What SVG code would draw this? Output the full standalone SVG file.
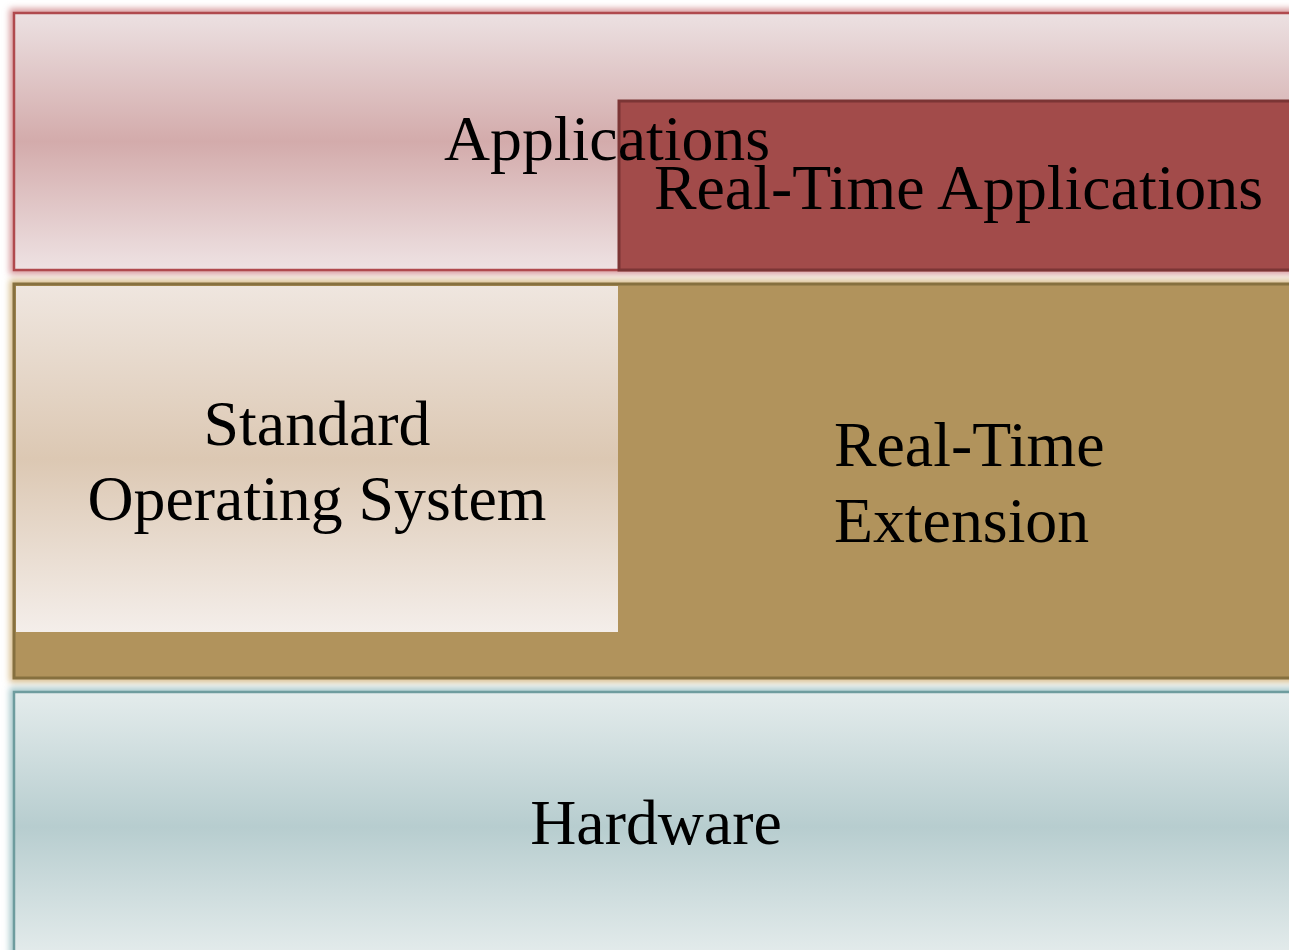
<svg xmlns="http://www.w3.org/2000/svg" width="1289" height="950" viewBox="0 0 1289 950">
  <defs>
    <linearGradient id="gApp" x1="0" y1="0" x2="0" y2="1">
      <stop offset="0" stop-color="#ece1e2"/>
      <stop offset="0.5" stop-color="#d3abab"/>
      <stop offset="1" stop-color="#eee2e3"/>
    </linearGradient>
    <linearGradient id="gOS" x1="0" y1="0" x2="0" y2="1">
      <stop offset="0" stop-color="#efe6df"/>
      <stop offset="0.5" stop-color="#dcc8b3"/>
      <stop offset="1" stop-color="#f4eeea"/>
    </linearGradient>
    <linearGradient id="gHW" x1="0" y1="0" x2="0" y2="1">
      <stop offset="0" stop-color="#e4ecec"/>
      <stop offset="0.5" stop-color="#b7cdcf"/>
      <stop offset="1" stop-color="#e6eded"/>
    </linearGradient>
    <filter id="glow" x="-5%" y="-10%" width="110%" height="120%">
      <feGaussianBlur stdDeviation="3"/>
    </filter>
    <style>
      text { font-family: "Liberation Serif", "Times New Roman", serif; font-size: 63.8px; fill: #000; }
    </style>
  </defs>

  <g id="applications">
    <rect x="14" y="13" width="1300" height="257" fill="none" stroke="#d79a9c" stroke-width="9" filter="url(#glow)"/>
    <rect x="14" y="13" width="1300" height="257" fill="url(#gApp)" stroke="#b04a4e" stroke-width="2.5"/>
  </g>

  <g id="rt-extension">
    <rect x="14" y="284" width="1300" height="394" fill="none" stroke="#d8bd8e" stroke-width="9" filter="url(#glow)"/>
    <rect x="14" y="284" width="1300" height="394" fill="#b1935c" stroke="#86703f" stroke-width="3"/>
  </g>

  <g id="standard-os">
    <rect x="16" y="286" width="602" height="346" fill="url(#gOS)"/>
  </g>

  <g id="rt-applications">
    <rect x="619" y="101" width="700" height="169" fill="#a24b4a" stroke="#7b3535" stroke-width="3"/>
  </g>

  <g id="hardware">
    <rect x="14" y="692" width="1300" height="270" fill="none" stroke="#a7c8ca" stroke-width="9" filter="url(#glow)"/>
    <rect x="14" y="692" width="1300" height="270" fill="url(#gHW)" stroke="#6e9c9e" stroke-width="2.5"/>
  </g>

  <g id="labels">
    <text x="444" y="160">Applications</text>
    <text x="654" y="209">Real-Time Applications</text>
    <text x="317" y="445" text-anchor="middle">Standard</text>
    <text x="317" y="520" text-anchor="middle">Operating System</text>
    <text x="834" y="466">Real-Time</text>
    <text x="834" y="542">Extension</text>
    <text x="656" y="844" text-anchor="middle">Hardware</text>
  </g>

  <g id="connectors"></g>
</svg>
